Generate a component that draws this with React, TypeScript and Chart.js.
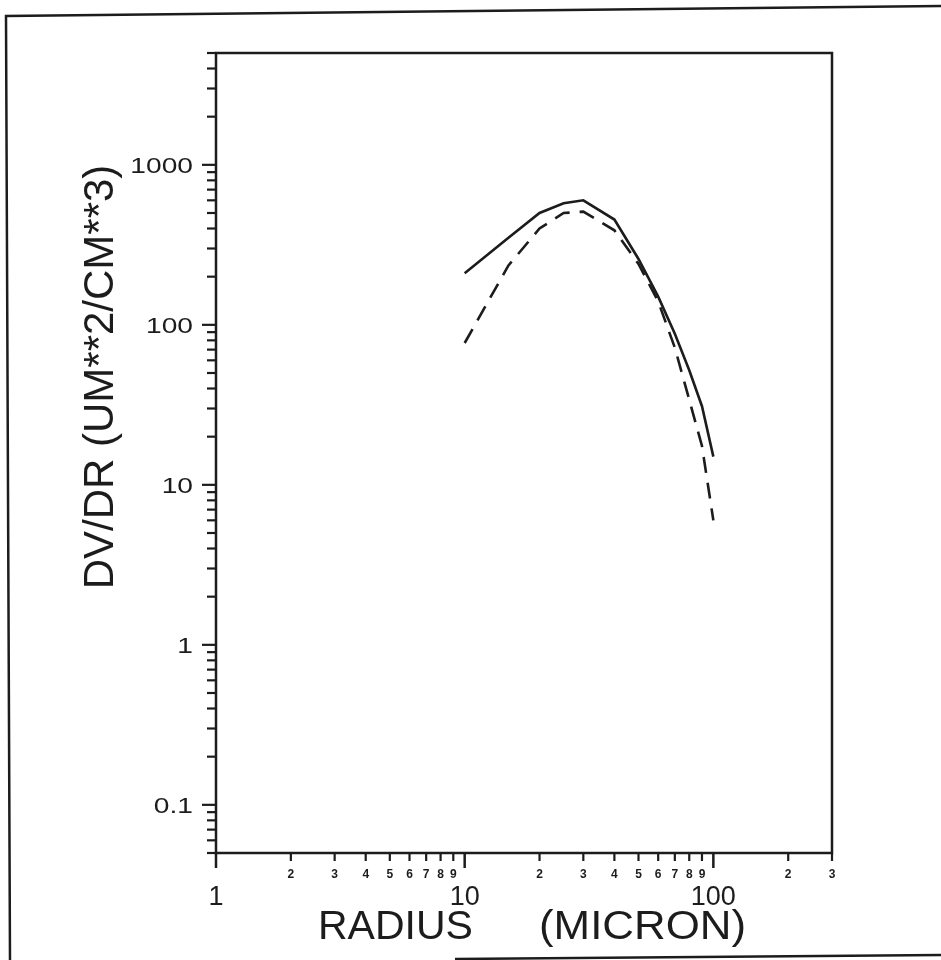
import React, { useEffect, useRef } from 'react';
import { Chart, registerables } from 'chart.js';

Chart.register(...registerables);

// ---- data ----
const radius = [10, 15, 20, 25, 30, 40, 50, 60, 70, 80, 90, 100];
const dvdrSolid = [210, 350, 500, 575, 600, 455, 258, 150, 88, 52, 31, 15];
const dvdrDashed = [77, 235, 400, 500, 510, 390, 240, 140, 72, 34, 17.5, 6];

// ---- axes ----
const xMin = 1;
const xMax = 300;
const yMin = 0.05;
const yMax = 5000;
const xMajorTicks = [1, 10, 100];
const xMajorLabels = ['1', '10', '100'];
const xDecades = [1, 10, 100];
const minorDigits = [2, 3, 4, 5, 6, 7, 8, 9];
const yMajorTicks = [0.1, 1, 10, 100, 1000];
const yTickLabels = ['0.1', '1', '10', '100', '1000'];
const yDecades = [0.01, 0.1, 1, 10, 100, 1000];
const xTitleLeft = 'RADIUS';
const xTitleRight = '(MICRON)';
const yTitle = 'DV/DR (UM**2/CM**3)';

const INK = '#1c1c1c';
const FONT = "'Liberation Sans', Arial, sans-serif";

function wideText(ctx: CanvasRenderingContext2D, text: string, x: number, y: number, sx: number, align: CanvasTextAlign) {
  ctx.save();
  ctx.translate(x, y);
  ctx.scale(sx, 1);
  ctx.textAlign = align;
  ctx.fillText(text, 0, 0);
  ctx.restore();
}

const axesPlugin = {
  id: 'oldPlotAxes',
  afterDraw(chart: any) {
    const ctx = chart.ctx as CanvasRenderingContext2D;
    const xs = chart.scales.x;
    const ys = chart.scales.y;
    const { left, right, top, bottom } = chart.chartArea;
    ctx.save();
    ctx.strokeStyle = INK;
    ctx.fillStyle = INK;
    ctx.lineCap = 'butt';

    // page frame (slightly rotated scan)
    ctx.lineWidth = 2.5;
    ctx.beginPath();
    ctx.moveTo(941, 6);
    ctx.lineTo(6, 16);
    ctx.lineTo(10, 960);
    ctx.stroke();
    ctx.beginPath();
    ctx.moveTo(455, 959);
    ctx.lineTo(941, 955);
    ctx.stroke();

    // plot box
    ctx.lineWidth = 2.5;
    ctx.beginPath();
    ctx.rect(left, top, right - left, bottom - top);
    ctx.stroke();

    // y ticks (outside, to the left)
    ctx.lineWidth = 2.2;
    for (const d of yDecades) {
      for (const k of [1, ...minorDigits]) {
        const v = d * k;
        if (v < yMin * 0.999 || v > yMax * 1.001) continue;
        const py = ys.getPixelForValue(v);
        const isMajor = yMajorTicks.some((m) => Math.abs(m - v) / m < 1e-6);
        const len = isMajor ? 14 : 9;
        ctx.beginPath();
        ctx.moveTo(left, py);
        ctx.lineTo(left - len, py);
        ctx.stroke();
      }
    }
    // y labels
    ctx.font = `22px ${FONT}`;
    ctx.textBaseline = 'alphabetic';
    yMajorTicks.forEach((v, i) => {
      const py = ys.getPixelForValue(v);
      wideText(ctx, yTickLabels[i], left - 23, py + 8, 1.28, 'right');
    });

    // x ticks (outside, downward)
    for (const d of xDecades) {
      for (const k of [1, ...minorDigits]) {
        const v = d * k;
        if (v < xMin * 0.999 || v > xMax * 1.001) continue;
        const px = xs.getPixelForValue(v);
        const isMajor = k === 1;
        const len = isMajor ? 15 : 8;
        ctx.lineWidth = isMajor ? 2.5 : 2.2;
        ctx.beginPath();
        ctx.moveTo(px, bottom);
        ctx.lineTo(px, bottom + len);
        ctx.stroke();
        if (!isMajor) {
          ctx.font = `bold 12px ${FONT}`;
          ctx.textAlign = 'center';
          ctx.textBaseline = 'alphabetic';
          ctx.fillText(String(k), px, bottom + 25);
        }
      }
    }
    // x major labels
    ctx.font = `27px ${FONT}`;
    ctx.textAlign = 'center';
    ctx.textBaseline = 'alphabetic';
    xMajorTicks.forEach((v, i) => {
      const px = xs.getPixelForValue(v);
      ctx.fillText(xMajorLabels[i], px, bottom + 52);
    });

    // x title
    ctx.font = `41px ${FONT}`;
    ctx.textAlign = 'left';
    ctx.fillText(xTitleLeft, 318, 939);
    wideText(ctx, xTitleRight, 539, 939, 1.07, 'left');

    // y title
    ctx.save();
    ctx.translate(113, 377);
    ctx.rotate(-Math.PI / 2);
    ctx.font = `42px ${FONT}`;
    ctx.textAlign = 'center';
    ctx.textBaseline = 'alphabetic';
    ctx.fillText(yTitle, 0, 0);
    ctx.restore();

    ctx.restore();
  },
};

export default function App() {
  const canvasRef = useRef<HTMLCanvasElement | null>(null);

  useEffect(() => {
    const canvas = canvasRef.current;
    if (!canvas) return;
    const chart = new Chart(canvas, {
      type: 'line',
      data: {
        datasets: [
          {
            label: 'solid',
            data: radius.map((r, i) => ({ x: r, y: dvdrSolid[i] })),
            borderColor: INK,
            borderWidth: 2.6,
            pointRadius: 0,
            tension: 0,
            fill: false,
          },
          {
            label: 'dashed',
            data: radius.map((r, i) => ({ x: r, y: dvdrDashed[i] })),
            borderColor: INK,
            borderWidth: 2.6,
            borderDash: [16, 10],
            pointRadius: 0,
            tension: 0,
            fill: false,
          },
        ],
      },
      options: {
        responsive: false,
        animation: false,
        events: [],
        layout: { padding: { left: 216, top: 53, right: 109, bottom: 107 } },
        plugins: {
          legend: { display: false },
          tooltip: { enabled: false },
          title: { display: false },
        },
        scales: {
          x: { type: 'logarithmic', min: xMin, max: xMax, display: false },
          y: { type: 'logarithmic', min: yMin, max: yMax, display: false },
        },
      },
      plugins: [axesPlugin],
    });
    return () => chart.destroy();
  }, []);

  return (
    <div style={{ position: 'absolute', left: 0, top: 0, width: 941, height: 960, background: '#fff' }}>
      <canvas ref={canvasRef} width={941} height={960} style={{ display: 'block' }} />
    </div>
  );
}
